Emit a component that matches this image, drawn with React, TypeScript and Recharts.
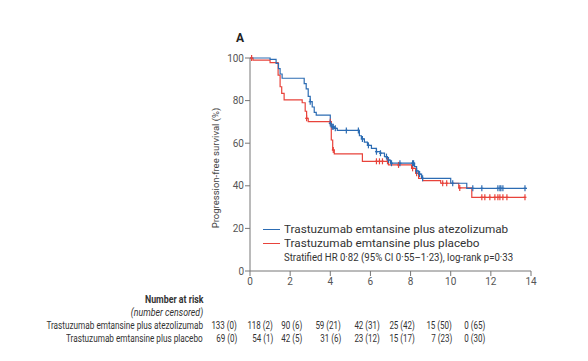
import React from "react";
import { ComposedChart, Line, Scatter, XAxis, YAxis } from "recharts";

// Kaplan-Meier step data (months, % progression-free)
const atezoTimes = [0, 1.0, 1.3, 1.42, 1.5, 1.6, 2.7, 2.8, 2.9, 3.0, 3.1, 3.2, 3.3, 4.0, 4.05, 4.2, 4.35, 5.45, 5.55, 5.7, 5.85, 6.05, 6.3, 6.5, 6.7, 6.85, 7.0, 8.2, 8.3, 8.4, 8.55, 10.0, 10.8, 13.8];
const atezoValues = [100, 99.4, 97.5, 95, 92.5, 90.5, 88, 85.5, 82, 79.5, 77, 74.5, 73.2, 69.3, 67.7, 67, 66, 63.5, 62, 60.5, 59, 57.6, 56, 55.3, 53.7, 52.1, 50.6, 49, 47, 45.5, 43.5, 41.2, 38.8, 38.8];
const placeboTimes = [0, 0.15, 1.0, 1.4, 1.5, 1.58, 1.7, 2.6, 2.75, 2.82, 2.9, 4.05, 4.12, 4.2, 5.6, 6.9, 8.05, 8.25, 8.4, 8.6, 9.5, 10.4, 11.05, 13.7];
const placeboValues = [100, 99, 97.8, 92, 86.5, 83.4, 80.3, 79, 75, 71.7, 70.1, 61.5, 56.8, 55, 51.5, 49.8, 48.2, 45.9, 43.5, 42.4, 41.2, 39, 34.6, 34.6];

// Censoring times
const atezoCensor = [3.0, 4.0, 4.1, 4.15, 4.25, 4.8, 5.4, 5.6, 5.9, 6.3, 6.5, 6.8, 6.9, 7.05, 7.47, 8.1, 8.15, 8.3, 8.45, 8.6, 10.1, 11.1, 11.55, 12.35, 12.45, 12.5, 12.6, 13.7];
const placeboCensor = [0.08, 2.82, 4.0, 4.15, 6.3, 6.45, 6.6, 6.85, 7.4, 8.1, 8.3, 9.6, 9.8, 10.45, 11.55, 11.7, 11.95, 12.2, 12.35, 12.45, 12.6, 12.8, 13.7];

const xTicks = [0, 2, 4, 6, 8, 10, 12, 14];
const yTicks = [0, 20, 40, 60, 80, 100];

const seriesNames = ["Trastuzumab emtansine plus atezolizumab", "Trastuzumab emtansine plus placebo"];
const statsText = "Stratified HR 0·82 (95% CI 0·55–1·23), log-rank p=0·33";
const atezoRisk = ["133 (0)", "118 (2)", "90 (6)", "59 (21)", "42 (31)", "25 (42)", "15 (50)", "0 (65)"];
const placeboRisk = ["69 (0)", "54 (1)", "42 (5)", "31 (6)", "23 (12)", "15 (17)", "7 (23)", "0 (30)"];

const BLUE = "#2c6cb3";
const RED = "#e8433b";
const FONT = "'Roboto', sans-serif";
const riskRight = [237, 273, 302, 341, 380, 415, 452, 485];

const toSteps = (times: number[], values: number[]) => times.map((t, i) => ({ t, s: values[i] }));
const survAt = (times: number[], values: number[], t: number) => {
  let v = values[0];
  for (let i = 0; i < times.length; i++) if (times[i] <= t) v = values[i];
  return v;
};
const toCensor = (c: number[], times: number[], values: number[]) => c.map((t) => ({ t, s: survAt(times, values, t) }));

const tickShape = (color: string) => (props: any) => {
  const { cx, cy } = props;
  return (
    <g>
      <line x1={cx} x2={cx} y1={cy - 3} y2={cy + 3} stroke={color} strokeWidth={1.2} />
      <line x1={cx - 1.5} x2={cx + 1.5} y1={cy} y2={cy} stroke={color} strokeWidth={1.2} />
    </g>
  );
};

const base: React.CSSProperties = { position: "absolute", fontFamily: FONT, whiteSpace: "nowrap", lineHeight: 1, color: "#333" };

function T(props: { x: number; y: number; anchor?: "left" | "right"; scale?: number; size?: number; style?: React.CSSProperties; children: React.ReactNode }) {
  const { x, y, anchor = "left", scale = 1, size = 10, style, children } = props;
  const pos: React.CSSProperties = anchor === "left" ? { left: x } : { right: 588 - x };
  return (
    <div
      style={{
        ...base,
        ...pos,
        top: y,
        fontSize: size,
        transform: `scaleX(${scale})`,
        transformOrigin: anchor === "left" ? "left center" : "right center",
        ...style,
      }}
    >
      {children}
    </div>
  );
}

export default function App() {
  return (
    <div style={{ position: "relative", width: 588, height: 361, background: "#fff" }}>
      <style>{`body{margin:0}`}</style>
      <ComposedChart width={588} height={361} margin={{ top: 58, right: 57, bottom: 70, left: 210 }}>
        <XAxis
          type="number"
          dataKey="t"
          domain={[0, 14]}
          ticks={xTicks}
          height={20}
          tickSize={5}
          tickMargin={2}
          stroke="#777"
          tick={{ fill: "#555", fontSize: 10, fontFamily: FONT }}
          allowDataOverflow
        />
        <YAxis
          type="number"
          dataKey="s"
          domain={[0, 100]}
          ticks={yTicks}
          width={40}
          tickSize={5}
          tickMargin={1}
          stroke="#777"
          tick={{ fill: "#555", fontSize: 10, fontFamily: FONT }}
        />
        <Line data={toSteps(placeboTimes, placeboValues)} dataKey="s" type="stepAfter" stroke={RED} strokeWidth={1.2} dot={false} isAnimationActive={false} />
        <Line data={toSteps(atezoTimes, atezoValues)} dataKey="s" type="stepAfter" stroke={BLUE} strokeWidth={1.2} dot={false} isAnimationActive={false} />
        <Scatter data={toCensor(placeboCensor, placeboTimes, placeboValues)} dataKey="s" shape={tickShape(RED)} isAnimationActive={false} />
        <Scatter data={toCensor(atezoCensor, atezoTimes, atezoValues)} dataKey="s" shape={tickShape(BLUE)} isAnimationActive={false} />
      </ComposedChart>

      <T x={236} y={32} size={12} style={{ fontWeight: "bold", color: "#222" }}>A</T>
      <div style={{ ...base, left: 216, top: 168, fontSize: 9.5, color: "#444", transform: "translate(-50%, -50%) rotate(-90deg)" }}>
        Progression-free survival (%)
      </div>

      {/* legend */}
      <div style={{ position: "absolute", left: 263, top: 229, width: 17, borderTop: `1.2px solid ${BLUE}` }} />
      <T x={284} y={224} size={11.5} scale={1.02}>{seriesNames[0]}</T>
      <div style={{ position: "absolute", left: 263, top: 243, width: 17, borderTop: `1.2px solid ${RED}` }} />
      <T x={284} y={238} size={11.5} scale={1.02}>{seriesNames[1]}</T>
      <T x={284} y={252} size={11.5} scale={0.835}>{statsText}</T>

      {/* number at risk */}
      <T x={203} y={295} anchor="right" scale={0.88} style={{ fontWeight: "bold" }}>Number at risk</T>
      <T x={203} y={308} anchor="right" scale={0.88} style={{ fontStyle: "italic" }}>(number censored)</T>
      <T x={203} y={321} anchor="right" scale={0.82}>{seriesNames[0]}</T>
      <T x={203} y={334} anchor="right" scale={0.82}>{seriesNames[1]}</T>
      {atezoRisk.map((v, i) => (
        <T key={"a" + i} x={riskRight[i]} y={321} anchor="right" scale={0.8}>{v}</T>
      ))}
      {placeboRisk.map((v, i) => (
        <T key={"p" + i} x={riskRight[i]} y={334} anchor="right" scale={0.8}>{v}</T>
      ))}
    </div>
  );
}
